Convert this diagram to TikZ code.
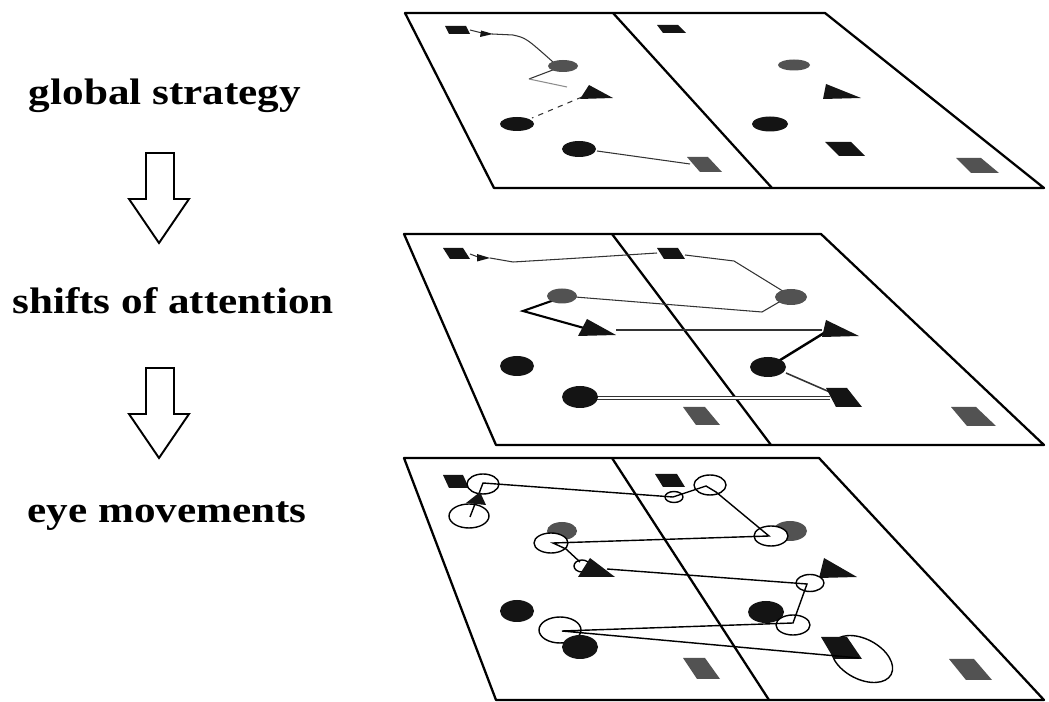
\documentclass[tikz,border=0pt]{standalone}
\usepackage{fontspec}
\setmainfont{Liberation Serif}
\newfontfamily\levelfont[FakeStretch=1.17]{Liberation Serif}

\begin{document}
\begin{tikzpicture}[x=0.02cm, y=-0.02cm,
  levelname/.style={anchor=base, inner sep=0pt, font=\levelfont\bfseries\fontsize{21}{25}\selectfont},
  downarrow/.style={draw, line width=1.1pt, fill=white, line join=miter},
  panel/.style={line width=1.3pt, line join=round},
  blk/.style={fill=black!92},
  gry/.style={fill=black!68},
  trace/.style={line width=0.6pt, black!80},
  fix/.style={draw, line width=0.8pt, fill=white},
  eyepath/.style={line width=0.8pt, black}]
\useasboundingbox (0,0) rectangle (1049,702);

% levels
\node[levelname] (glob) at (165,105) {global strategy};
\node[levelname] (attn) at (173,314) {shifts of attention};
\node[levelname] (eyemov) at (167,523) {eye movements};
\draw[downarrow] (146,153) -- (174,153) -- (174,199) -- (189,199) -- (159,243) -- (129,199) -- (146,199) -- cycle;
\draw[downarrow] (146,368) -- (174,368) -- (174,414) -- (189,414) -- (159,458) -- (129,414) -- (146,414) -- cycle;

% top panel
\draw[panel] (405,13) -- (825,13) -- (1044,188) -- (494,188) -- cycle;
\draw[panel] (613,13) -- (772,188);
\draw[trace] (470,30) -- (482,33);
\fill[blk] (481,30.5) -- (493,34) -- (480,37) -- cycle;
\draw[trace] (492,34) -- (513,35) .. controls (526,38) .. (553,62);
\draw[trace] (558,68) -- (529,79);
\draw[trace, black!45] (529,79) -- (567,87);
\draw[trace, dashed] (582,97) -- (532,118);
\draw[trace] (597,151) -- (690,164);
\fill[blk] (445,26) -- (466,26) -- (470,34) -- (449,34) -- cycle;
\fill[gry] (563,66) ellipse [x radius=15, y radius=6];
\fill[blk] (589,85) -- (613,98) -- (580,99) -- cycle;
\fill[blk] (517,124) ellipse [x radius=17, y radius=7];
\fill[blk] (579,149) ellipse [x radius=17, y radius=8];
\fill[gry] (687,157) -- (708,157) -- (722,172) -- (700,172) -- cycle;
\fill[blk] (657,25) -- (678,25) -- (686,33) -- (663,33) -- cycle;
\fill[gry] (794,65) ellipse [x radius=16, y radius=5.5];
\fill[blk] (826,84) -- (861,98) -- (823,99) -- cycle;
\fill[blk] (770,124) ellipse [x radius=18, y radius=7.5];
\fill[blk] (825,142) -- (851,142) -- (865,156) -- (839,156) -- cycle;
\fill[gry] (956,158) -- (981,158) -- (999,173) -- (971,173) -- cycle;

% middle panel
\draw[panel] (404,234) -- (821,234) -- (1044,445) -- (496,445) -- cycle;
\draw[panel] (612,234) -- (771,445);
\draw[trace] (470,254) -- (478,257);
\fill[blk] (477,254) -- (490,258) -- (477,261.5) -- cycle;
\draw[trace] (490,258) -- (513,262) .. controls (580,258) .. (657,253);
\draw[trace] (685,255) -- (734,261) -- (786,293);
\draw[trace] (786,298) -- (762,312) -- (575,297);
\draw[trace, line width=1.2pt, black] (560,298) -- (523,311) -- (584,328);
\draw[trace] (616,330) -- (822,330);
\draw[trace, line width=1.4pt, black] (824,333) -- (777,362);
\draw[trace, line width=0.9pt] (786,373) -- (832,393);
\draw[double, double distance=1.2pt, line width=0.5pt, black!80] (597,398) -- (830,398);
\fill[blk] (443,248) -- (463,248) -- (470,259) -- (450,259) -- cycle;
\fill[gry] (562,296) ellipse [x radius=15, y radius=7.5];
\fill[blk] (587,319) -- (616,335) -- (578,336) -- cycle;
\fill[blk] (517,366) ellipse [x radius=17, y radius=10];
\fill[blk] (580,397) ellipse [x radius=18, y radius=11];
\fill[gry] (683,407) -- (705,407) -- (720,425) -- (696,425) -- cycle;
\fill[blk] (657,248) -- (678,248) -- (685,259) -- (664,259) -- cycle;
\fill[gry] (791,297) ellipse [x radius=16, y radius=8];
\fill[blk] (826,320) -- (859,336) -- (822,337) -- cycle;
\fill[blk] (768,367) ellipse [x radius=18, y radius=10];
\fill[blk] (826,388) -- (847,388) -- (862,407) -- (836,407) -- cycle;
\fill[gry] (951,407) -- (976,407) -- (996,426) -- (967,426) -- cycle;

% bottom panel
\draw[panel] (404,458) -- (819,458) -- (1044,700) -- (496,700) -- cycle;
\draw[panel] (612,458) -- (769,700);
\fill[blk] (443,475) -- (463,475) -- (469,488) -- (449,488) -- cycle;
\fill[blk] (655,474) -- (677,474) -- (685,487) -- (663,487) -- cycle;
\fill[gry] (562,531) ellipse [x radius=15, y radius=9];
\fill[gry] (790,531) ellipse [x radius=17, y radius=10];
\fill[blk] (824,558) -- (857,577) -- (819,578) -- cycle;
\fill[blk] (517,611) ellipse [x radius=17, y radius=11];
\fill[blk] (766,612) ellipse [x radius=18, y radius=11];
\fill[gry] (683,658) -- (705,658) -- (720,679) -- (697,679) -- cycle;
\fill[gry] (949,659) -- (974,659) -- (992,680) -- (966,680) -- cycle;
\path[fix] (483,484) ellipse [x radius=16, y radius=10];
\path[fix] (469,516) ellipse [x radius=20, y radius=12];
\path[fix] (674,497) ellipse [x radius=9, y radius=5.5];
\path[fix] (710,485) ellipse [x radius=16, y radius=10];
\path[fix] (771,536) ellipse [x radius=17, y radius=10];
\path[fix] (551,543) ellipse [x radius=17, y radius=10];
\path[fix] (582,566) ellipse [x radius=8, y radius=6];
\path[fix] (810,583) ellipse [x radius=14, y radius=8.5];
\path[fix] (793,625) ellipse [x radius=17, y radius=10];
\path[fix] (560,630) ellipse [x radius=21, y radius=13];
\draw[line width=0.8pt] (862,659) ellipse [x radius=33, y radius=20, rotate=-28];
\fill[blk] (590,558) -- (615,577) -- (578,577) -- cycle;
\fill[blk] (580,647) ellipse [x radius=18, y radius=12];
\fill[blk] (821,637) -- (847,637) -- (862,659) -- (834,659) -- cycle;
\draw[eyepath] (470,517) -- (483,483) -- (673,497) -- (706,486) -- (716,492) -- (769,536) -- (553,543) -- (566,549) -- (580,562);
\fill[blk] (480,492) -- (486,505) -- (466,503) -- cycle;
\draw[eyepath] (607,569) -- (807,584) -- (793,623) -- (562,631) -- (859,658);
\end{tikzpicture}
\end{document}
